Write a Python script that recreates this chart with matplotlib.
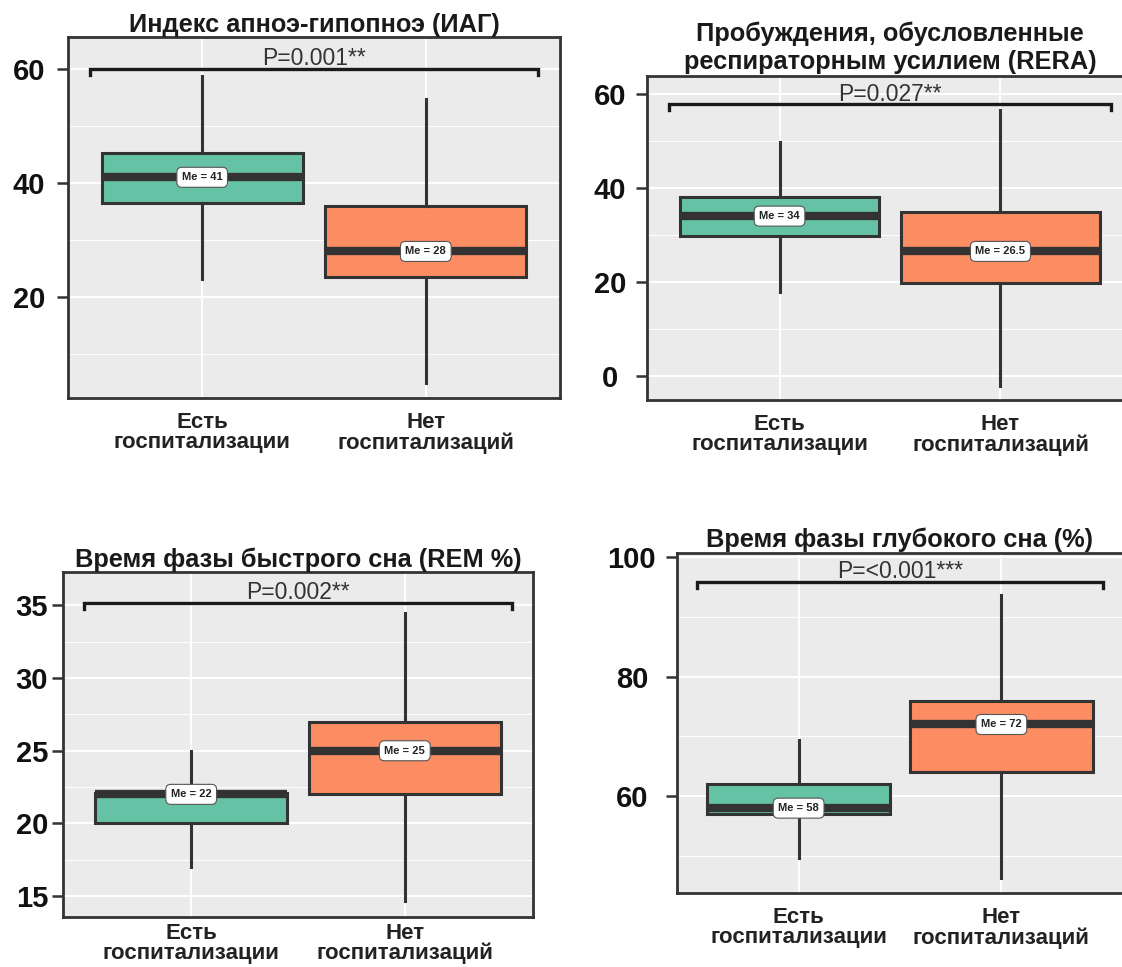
import numpy as np
import matplotlib
matplotlib.use('Agg')
import matplotlib.pyplot as plt
from matplotlib.ticker import MultipleLocator

plt.rcParams['font.family'] = ['Liberation Sans', 'DejaVu Sans']

groups = ['Есть\nгоспитализации', 'Нет\nгоспитализаций']
colors = ['#66C2A5', '#FC8D62']

titles = ['Индекс апноэ-гипопноэ (ИАГ)',
          'Пробуждения, обусловленные\nреспираторным усилием (RERA)',
          'Время фазы быстрого сна (REM %)',
          'Время фазы глубокого сна (%)']
p_labels = ['P=0.001**', 'P=0.027**', 'P=0.002**', 'P=<0.001***']

# box stats per panel: [Есть, Нет]
iag_lo = [23.2, 4.9];   iag_q1 = [36.5, 23.5]; iag_med = [41, 28];   iag_q3 = [45.3, 36.0]; iag_hi = [58.8, 54.7]
rera_lo = [17.9, -2.1]; rera_q1 = [29.8, 19.8]; rera_med = [34, 26.5]; rera_q3 = [38.1, 34.9]; rera_hi = [49.8, 56.6]
rem_lo = [17.0, 14.65]; rem_q1 = [20.0, 22.0]; rem_med = [22, 25];    rem_q3 = [22.1, 27.0]; rem_hi = [25.0, 34.45]
deep_lo = [49.6, 46.3]; deep_q1 = [57.0, 64.0]; deep_med = [58, 72];  deep_q3 = [62.0, 76.0]; deep_hi = [69.4, 93.6]

bracket_y = [60, 57.8, 35.2, 95.9]
ylims = [(2.3, 65.6), (-5.1, 63.8), (13.56, 37.3), (43.8, 100.7)]
yticks = [[20, 40, 60], [0, 20, 40, 60], [15, 20, 25, 30, 35], [60, 80, 100]]
yminor = [10, 10, 2.5, 10]

# axes rectangles in figure pixels: left, right, top, bottom
W, H = 1122, 967
rects = [(68, 560, 37, 398), (647, 1133, 76, 400), (63, 533, 572, 917), (677, 1123, 553, 893)]
ypads = [20, 18.7, 14.4, 24.5]
xpads = [10, 10, 4, 10]
title_pads = [3.6, 5.0, 2.5, 4.0]

def plot_panel(fig, rect, lo, q1, med, q3, hi, title, plab, by, ylim, yt, ymin, ypad, xpad, tpad):
    l, r, t, b = rect
    ax = fig.add_axes([l / W, 1 - b / H, (r - l) / W, (b - t) / H])
    ax.set_facecolor('#EBEBEB')
    stats = []
    for i in range(2):
        stats.append(dict(med=med[i], q1=q1[i], q3=q3[i], whislo=lo[i], whishi=hi[i], fliers=[]))
    bp = ax.bxp(stats, positions=[1, 2], widths=0.9, patch_artist=True, showcaps=False,
                boxprops=dict(edgecolor='#333333', linewidth=2.2),
                whiskerprops=dict(color='#333333', linewidth=2.2),
                medianprops=dict(color='#333333', linewidth=6, solid_capstyle='butt'),
                manage_ticks=False)
    for patch, c in zip(bp['boxes'], colors):
        patch.set_facecolor(c)
    for i in range(2):
        ax.text(i + 1, med[i], 'Me = %g' % med[i], fontsize=8, fontweight='bold', color='#222222',
                ha='center', va='center', zorder=6,
                bbox=dict(boxstyle='round,pad=0.45', fc='white', ec='#555555', lw=0.8))
    # significance bracket
    drop = 0.018 * (ylim[1] - ylim[0])
    ax.plot([0.5, 0.5, 2.5, 2.5], [by - drop, by, by, by - drop], color='#1a1a1a', lw=2.4,
            solid_joinstyle='miter', zorder=5)
    ax.annotate(plab, (1.5, by), xytext=(0, 2.5), textcoords='offset points', ha='center',
                va='baseline', fontsize=16.5, color='#333333')
    ax.set_xlim(0.4, 2.6)
    ax.set_ylim(*ylim)
    ax.set_xticks([1, 2])
    ax.set_xticklabels(groups, fontsize=16, fontweight='bold', color='#222222', linespacing=0.95)
    ax.set_yticks(yt)
    ax.set_yticklabels([str(v) for v in yt], fontsize=21, fontweight='bold', color='#111111')
    ax.yaxis.set_minor_locator(MultipleLocator(ymin))
    for lab in ax.get_yticklabels():
        lab.set_horizontalalignment('center')
    ax.tick_params(axis='y', which='major', length=8, width=1.8, color='#333333', pad=ypad)
    ax.tick_params(axis='y', which='minor', length=0)
    ax.tick_params(axis='x', length=0, pad=xpad)
    ax.grid(True, which='major', color='white', lw=1.4)
    ax.grid(True, which='minor', axis='y', color='white', lw=0.7)
    ax.set_axisbelow(True)
    for s in ax.spines.values():
        s.set_color('#333333')
        s.set_linewidth(2.0)
    ax.set_title(title, fontsize=18.3, fontweight='bold', color='#1a1a1a', pad=tpad, linespacing=1.2)
    return ax

fig = plt.figure(figsize=(W / 100, H / 100), dpi=100)
plot_panel(fig, rects[0], iag_lo, iag_q1, iag_med, iag_q3, iag_hi, titles[0], p_labels[0],
           bracket_y[0], ylims[0], yticks[0], yminor[0], ypads[0], xpads[0], title_pads[0])
plot_panel(fig, rects[1], rera_lo, rera_q1, rera_med, rera_q3, rera_hi, titles[1], p_labels[1],
           bracket_y[1], ylims[1], yticks[1], yminor[1], ypads[1], xpads[1], title_pads[1])
plot_panel(fig, rects[2], rem_lo, rem_q1, rem_med, rem_q3, rem_hi, titles[2], p_labels[2],
           bracket_y[2], ylims[2], yticks[2], yminor[2], ypads[2], xpads[2], title_pads[2])
plot_panel(fig, rects[3], deep_lo, deep_q1, deep_med, deep_q3, deep_hi, titles[3], p_labels[3],
           bracket_y[3], ylims[3], yticks[3], yminor[3], ypads[3], xpads[3], title_pads[3])

fig.savefig('out.png', dpi=100)
plt.close()
